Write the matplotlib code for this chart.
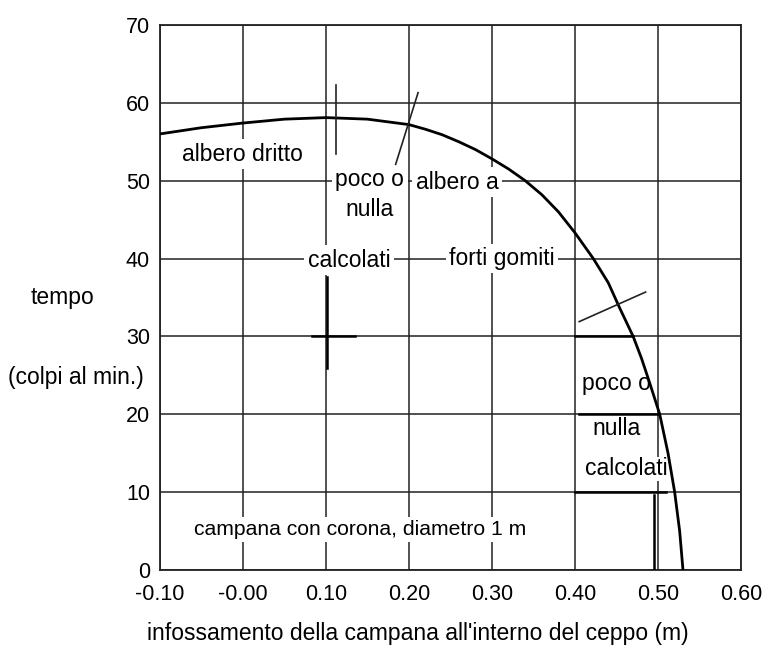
import numpy as np
import matplotlib.pyplot as plt

plt.rcParams['font.family'] = ['Liberation Sans', 'DejaVu Sans']

# curva
x_curva = [-0.10, -0.05, 0.00, 0.05, 0.10, 0.15, 0.20, 0.22, 0.24, 0.26, 0.28,
           0.30, 0.32, 0.34, 0.36, 0.38, 0.40, 0.41, 0.422, 0.44, 0.454, 0.47,
           0.48, 0.49, 0.502, 0.512, 0.52, 0.526, 0.53]
y_curva = [56.0, 56.8, 57.4, 57.9, 58.1, 57.9, 57.2, 56.6, 55.9, 55.0, 54.0,
           52.8, 51.5, 50.0, 48.2, 46.0, 43.3, 41.8, 40.0, 36.9, 33.6, 30.0,
           27.2, 24.0, 20.0, 15.0, 10.0, 5.0, 0.0]

x_ticks = [-0.10, 0.00, 0.10, 0.20, 0.30, 0.40, 0.50, 0.60]
x_labels = ['-0.10', '-0.00', '0.10', '0.20', '0.30', '0.40', '0.50', '0.60']
y_ticks = [0, 10, 20, 30, 40, 50, 60, 70]

# segni a mano sul grafico
segni_sottili = [
    ([0.112, 0.112], [62.3, 53.4]),
    ([0.211, 0.184], [61.3, 52.1]),
    ([0.405, 0.485], [31.9, 35.7]),
]
segni_spessi = [
    ([0.101, 0.101], [37.6, 25.9]),
    ([0.083, 0.135], [30, 30]),
    ([0.40, 0.47], [30, 30]),
    ([0.405, 0.50], [20, 20]),
    ([0.40, 0.51], [10, 10]),
    ([0.495, 0.495], [9.6, 0]),
]

# etichette: (testo, x, y, dimensione, margine)
etichette = [
    ('albero dritto', 0.00, 53.4, 16.5, 2.5),
    ('poco o', 0.153, 50.2, 16.5, 2.5),
    ('nulla', 0.153, 46.3, 16.5, 2.5),
    ('calcolati', 0.128, 39.8, 16.5, 2.5),
    ('albero a', 0.258, 49.8, 16.5, 2.5),
    ('forti gomiti', 0.312, 40.0, 16.5, 2.5),
    ('poco o', 0.450, 24.0, 16.5, 0.5),
    ('nulla', 0.450, 18.2, 16.5, 0.5),
    ('calcolati', 0.462, 13.0, 16.5, 0.5),
    ('campana con corona, diametro 1 m', 0.141, 5.2, 15.2, 2.5),
]

fig = plt.figure(figsize=(7.72, 6.56), dpi=100)
ax = fig.add_axes([0.207, 0.131, 0.753, 0.831])

ax.set_xlim(-0.10, 0.60)
ax.set_ylim(0, 70)
ax.set_xticks(x_ticks)
ax.set_xticklabels(x_labels)
ax.set_yticks(y_ticks)
ax.tick_params(length=0, labelsize=15.5)
ax.tick_params(axis='x', pad=10)
ax.tick_params(axis='y', pad=7)
ax.grid(True, color='#222222', linewidth=1.1)
ax.set_axisbelow(True)
for s in ax.spines.values():
    s.set_linewidth(1.3)
    s.set_color('#222222')

for t, x, y, fs, pd in etichette:
    ax.text(x, y, t, fontsize=fs, ha='center', va='center', zorder=3,
            bbox=dict(facecolor='white', edgecolor='none', pad=pd))

ax.plot(x_curva, y_curva, color='black', linewidth=2.0, zorder=4)

for xs, ys in segni_sottili:
    ax.plot(xs, ys, color='#222222', linewidth=1.2, zorder=4)
for xs, ys in segni_spessi:
    ax.plot(xs, ys, color='black', linewidth=1.8, zorder=4)

ax.set_xlabel("infossamento della campana all'interno del ceppo (m)",
              fontsize=16.5)
ax.xaxis.set_label_coords(0.444, -0.095)
fig.text(0.081, 0.547, 'tempo', fontsize=16.5, ha='center', va='center')
fig.text(0.098, 0.425, '(colpi al min.)', fontsize=16.5, ha='center', va='center')

fig.savefig('out.png', dpi=100, facecolor='white')
